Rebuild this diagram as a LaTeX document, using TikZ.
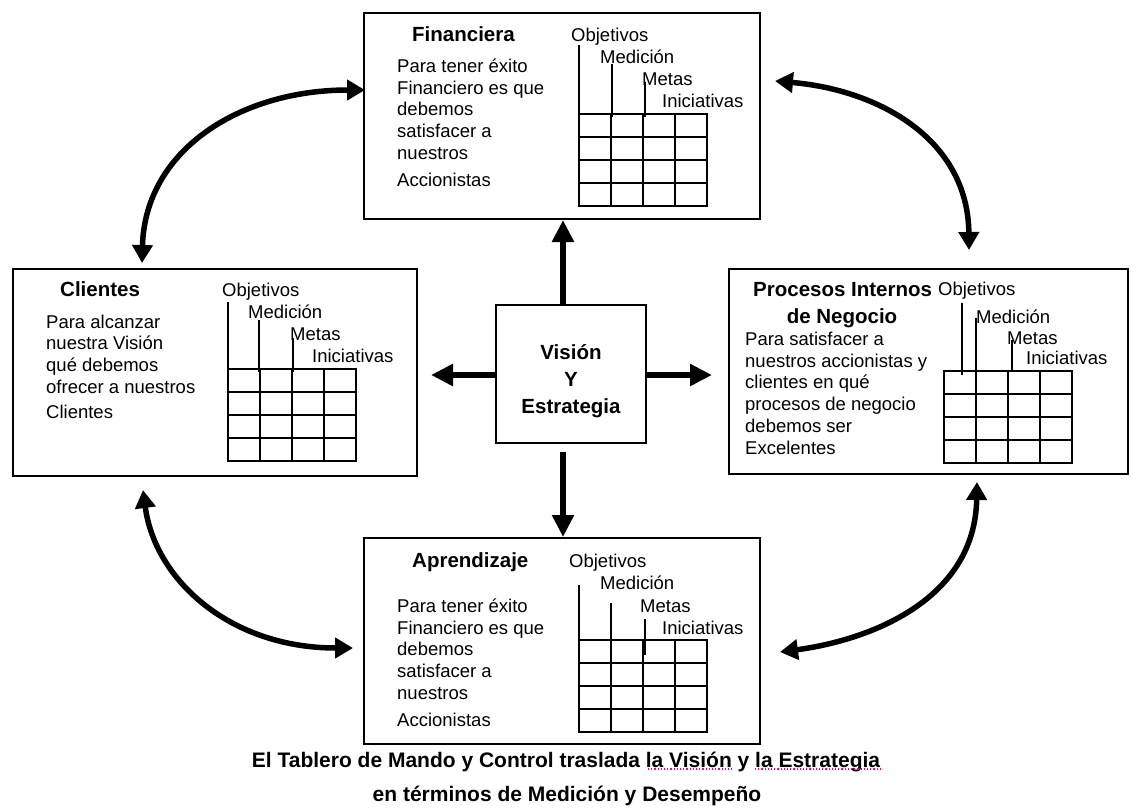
\documentclass[tikz,border=0pt]{standalone}
\usepackage{fontspec}
\setmainfont{Liberation Sans}
\usepackage{graphicx}
\usetikzlibrary{arrows.meta}
\newcommand\bodyfont{\fontsize{18.5pt}{21.7pt}\selectfont}
\newcommand\headfont{\fontsize{20.5pt}{24pt}\selectfont\bfseries}
\newcommand\ctrfont{\fontsize{20.5pt}{27pt}\selectfont\bfseries}
\newcommand\capfont{\fontsize{21pt}{24pt}\selectfont\bfseries}
\newcommand\tabgrid[2]{%
  \foreach \i in {0,...,4} {\draw[gridline] (#1+\i*32, #2) -- (#1+\i*32, #2+92);}
  \foreach \j in {0,...,4} {\draw[gridline] (#1, #2+\j*23) -- (#1+128, #2+\j*23);}
}
\begin{document}
\begin{tikzpicture}[x=1pt,y=-1pt,
  box/.style={draw, line width=2pt, inner sep=0pt, anchor=north west},
  body/.style={anchor=base west, inner sep=0pt, align=left, font=\bodyfont},
  head/.style={anchor=base west, inner sep=0pt, font=\headfont},
  lbl/.style={anchor=base west, inner sep=0pt, font=\bodyfont},
  tick/.style={line width=1.8pt},
  gridline/.style={line width=1.8pt, line cap=rect},
  arr/.style={line width=6.5pt, -{Triangle[length=22pt,width=21pt]}},
  carr/.style={line width=5.5pt, {Triangle[length=18pt,width=20pt]}-{Triangle[length=18pt,width=20pt]}},
  spell/.style={draw=magenta, line width=1.2pt, dotted},
]
\fill[white] (0,0) rectangle (1133,807);
\useasboundingbox (0,0) rectangle (1133,807);

% ---------------- boxes
\node[box, minimum width=396pt, minimum height=206pt] (fin) at (363,12) {};
\node[box, minimum width=404pt, minimum height=207pt] (cli) at (12,268) {};
\node[box, minimum width=399pt, minimum height=205pt] (pro) at (728,268) {};
\node[box, minimum width=396pt, minimum height=206pt] (apr) at (363,537) {};
\node[draw, line width=2pt, inner sep=0pt, minimum width=150pt, minimum height=138pt] (ctr) at (571,374) {};
\node[anchor=base, inner sep=0pt, align=center, font=\ctrfont] (ctrT) at (571,413) {Visión\\Y\\Estrategia};

% ---------------- Financiera
\node[head] (finT) at (412,41) {Financiera};
\node[body] (finB) at (397,186) {Para tener éxito\\Financiero es que\\debemos\\satisfacer a\\nuestros\\[5pt]Accionistas};
\node[lbl] (finO) at (571,41) {Objetivos};
\node[lbl] (finM) at (600,63) {Medición};
\node[lbl] (finE) at (642,85) {Metas};
\node[lbl] (finI) at (662,107) {Iniciativas};
\draw[tick] (579,45) -- (579,114);
\draw[tick] (612,64) -- (612,117);
\draw[tick] (645,82) -- (645,117);
\tabgrid{579}{114}

% ---------------- Clientes
\node[head] (cliT) at (60,296) {Clientes};
\node[body] (cliB) at (46,418) {Para alcanzar\\nuestra Visión\\qué debemos\\ofrecer a nuestros\\[3pt]Clientes};
\node[lbl] (cliO) at (222,296) {Objetivos};
\node[lbl] (cliM) at (248,318) {Medición};
\node[lbl] (cliE) at (290,340) {Metas};
\node[lbl] (cliI) at (312,362) {Iniciativas};
\draw[tick] (228,302) -- (228,369);
\draw[tick] (259,320) -- (259,372);
\draw[tick] (293,338) -- (293,372);
\tabgrid{228}{369}

% ---------------- Procesos
\node[head] (proT) at (753,296) {Procesos Internos};
\node[anchor=base, inner sep=0pt, font=\headfont] (proT2) at (842,323) {de Negocio};
\node[body] (proB) at (745,454) {Para satisfacer a\\nuestros accionistas y\\clientes en qué\\procesos de negocio\\debemos ser\\Excelentes};
\node[lbl] (proO) at (938,295) {Objetivos};
\node[lbl] (proM) at (976,323) {Medición};
\node[lbl] (proE) at (1007,344) {Metas};
\node[lbl] (proI) at (1026,364) {Iniciativas};
\draw[tick] (962,303) -- (962,375);
\draw[tick] (976,318) -- (976,371);
\draw[tick] (1012,340) -- (1012,371);
\tabgrid{944}{371}

% ---------------- Aprendizaje
\node[head] (aprT) at (412,567) {Aprendizaje};
\node[body] (aprB) at (397,726) {Para tener éxito\\Financiero es que\\debemos\\satisfacer a\\nuestros\\[5pt]Accionistas};
\node[lbl] (aprO) at (569,567) {Objetivos};
\node[lbl] (aprM) at (600,589) {Medición};
\node[lbl] (aprE) at (640,612) {Metas};
\node[lbl] (aprI) at (662,634) {Iniciativas};
\draw[tick] (579,585) -- (579,640);
\draw[tick] (611,603) -- (611,655);
\draw[tick] (645,619) -- (645,655);
\tabgrid{579}{640}

% ---------------- straight arrows
\coordinate (aup) at (563,220);
\coordinate (alf) at (431,375);
\coordinate (art) at (712,375);
\coordinate (adn0) at (563,452);
\coordinate (adn) at (563,537);
\draw[arr] (ctr.north -| aup) -- (aup);
\draw[arr] (ctr.west |- alf) -- (alf);
\draw[arr] (ctr.east |- art) -- (art);
\draw[arr] (adn0) -- (adn);

% ---------------- curved arrows
\coordinate (c1a) at (142,263);
\coordinate (c1b) at (365,90);
\coordinate (c2a) at (775,81);
\coordinate (c2b) at (969,250);
\coordinate (c3a) at (143,490);
\coordinate (c3b) at (353,648);
\coordinate (c4a) at (780,652);
\coordinate (c4b) at (977,482);
\draw[carr] (c1a) .. controls (145,150) and (240,90) .. (c1b);
\draw[carr] (c2a) .. controls (880,90) and (968,140) .. (c2b);
\draw[carr] (c3a) .. controls (155,580) and (230,648) .. (c3b);
\draw[carr] (c4a) .. controls (870,640) and (975,600) .. (c4b);

% ---------------- caption
\node[anchor=base, inner sep=0pt, font=\capfont] (cap1) at (566,767)
  {El Tablero de Mando y Control traslada la Visión y la Estrategia};
\node[anchor=base, inner sep=0pt, font=\capfont] (cap2) at (567,801)
  {en términos de Medición y Desempeño};
\draw[spell] (648,769) -- (732,769);
\draw[spell] (755,769) -- (880,769);
\end{tikzpicture}
\end{document}
